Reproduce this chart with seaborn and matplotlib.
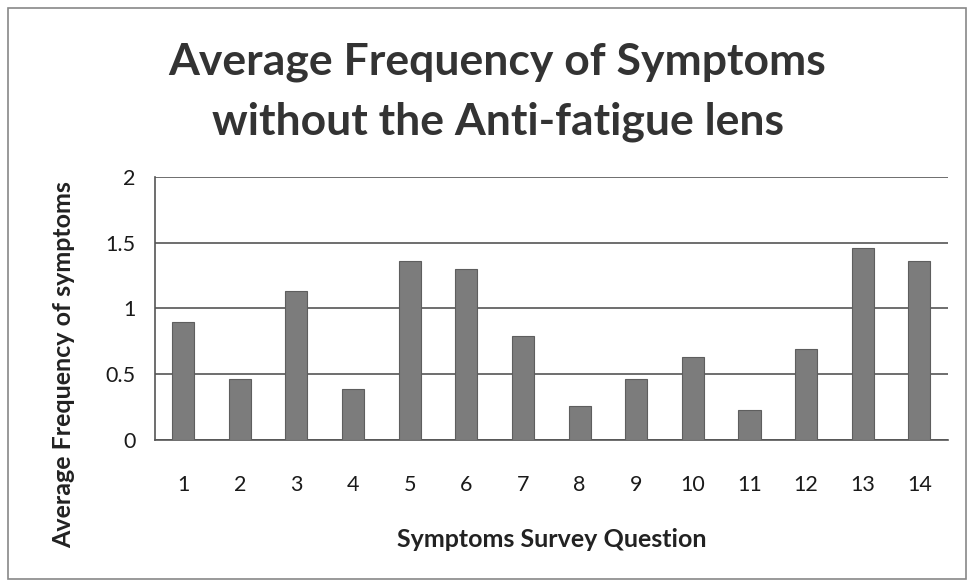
import numpy as np
import pandas as pd
import matplotlib.pyplot as plt
import seaborn as sns
from matplotlib.patches import Rectangle

# data
questions = [str(i) for i in range(1, 15)]
avg_freq = [0.90, 0.46, 1.13, 0.39, 1.36, 1.30, 0.79,
            0.26, 0.46, 0.63, 0.23, 0.69, 1.46, 1.36]
y_ticks = [0, 0.5, 1, 1.5, 2]
y_tick_labels = ["0", "0.5", "1", "1.5", "2"]

df = pd.DataFrame({"question": questions, "freq": avg_freq})

sns.set_theme(style="white")
plt.rcParams['font.family'] = ['Lato', 'DejaVu Sans']

fig = plt.figure(figsize=(9.68, 5.82), dpi=100)
ax = fig.add_axes([0.160, 0.244, 0.819, 0.452])

sns.barplot(data=df, x="question", y="freq", color="#7c7c7c",
            width=0.39, edgecolor="#5e5e5e", linewidth=0.8,
            saturation=1, ax=ax, zorder=3)

ax.set_ylim(0, 2)
ax.set_xlim(-0.5, len(questions) - 0.5)
ax.set_yticks(y_ticks)
ax.set_yticklabels(y_tick_labels, fontsize=15.5, color="#1a1a1a")
ax.tick_params(axis="x", labelsize=15.5, labelcolor="#1a1a1a", length=0, pad=25)
ax.set_xticks(np.arange(-0.5, len(questions), 1.0), minor=True)
ax.tick_params(axis="x", which="minor", length=6, color="#555555", direction="out")
ax.tick_params(axis="y", length=6, color="#555555", direction="out", pad=8)

ax.yaxis.grid(True, color="#555555", linewidth=1.2, zorder=0)
for side in ["top", "right"]:
    ax.spines[side].set_visible(False)
for side in ["left", "bottom"]:
    ax.spines[side].set_color("#555555")
    ax.spines[side].set_linewidth(1.2)

ax.set_xlabel("Symptoms Survey Question", fontsize=18, fontweight="bold",
              color="#222222")
ax.set_ylabel("Average Frequency of symptoms", fontsize=18, fontweight="bold",
              color="#222222")
ax.xaxis.set_label_coords(0.50, -0.335)
ax.yaxis.set_label_coords(-0.10, 0.285)

fig.text(0.514, 0.893, "Average Frequency of Symptoms", ha="center", va="center",
         fontsize=32, fontweight="bold", color="#333333")
fig.text(0.514, 0.790, "without the Anti-fatigue lens", ha="center", va="center",
         fontsize=32, fontweight="bold", color="#333333")

# outer chart border
fig.patches.append(Rectangle((0.008, 0.005), 0.99, 0.982, transform=fig.transFigure,
                             fill=False, edgecolor="#888888", linewidth=1.2))

fig.savefig("out.png", dpi=100)
